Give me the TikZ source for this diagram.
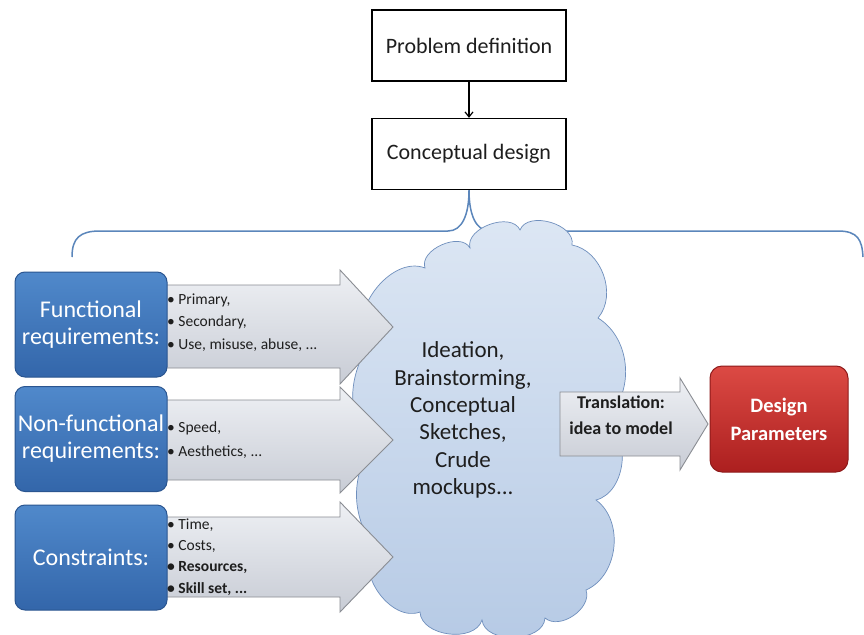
\documentclass[tikz,border=0pt]{standalone}
\usepackage{fontspec}
\setmainfont{Carlito}
\usetikzlibrary{arrows.meta,calc}
\definecolor{braceblue}{HTML}{5B86BB}
\definecolor{bluetop}{HTML}{5089CB}
\definecolor{bluebot}{HTML}{3366AA}
\definecolor{blueedge}{HTML}{2A5590}
\definecolor{redtop}{HTML}{DC4A44}
\definecolor{redbot}{HTML}{AC1F1F}
\definecolor{rededge}{HTML}{8E1A1A}
\definecolor{graytop}{HTML}{EEF0F4}
\definecolor{graybot}{HTML}{C8CCD5}
\definecolor{grayedge}{HTML}{8A8D93}
\definecolor{cloudtop}{HTML}{DDE7F4}
\definecolor{cloudbot}{HTML}{B6CAE5}
\definecolor{cloudedge}{HTML}{6F8FBD}
\definecolor{textdark}{HTML}{1E1E1E}
\tikzset{
  plainbox/.style={draw=black, line width=1.3pt, fill=white, minimum width=194pt, minimum height=71pt,
    font=\fontsize{22}{26}\selectfont, text=textdark},
  bluebox/.style={draw=blueedge, line width=1pt, rounded corners=10pt, top color=bluetop, bottom color=bluebot,
    minimum width=152pt, minimum height=105pt, align=center, text=white, font=\fontsize{24}{27}\selectfont, inner sep=0pt},
  redbox/.style={draw=rededge, line width=1pt, rounded corners=12pt, top color=redtop, bottom color=redbot,
    minimum width=138pt, minimum height=106pt, align=center, text=white, font=\bfseries\fontsize{20.5}{28}\selectfont, inner sep=0pt},
  grayarrow/.style={draw=grayedge, line width=0.9pt, top color=graytop, bottom color=graybot},
  bullets/.style={align=left, anchor=west, inner sep=0pt, text=textdark},
  cloudtext/.style={align=center, text=textdark, font=\fontsize{23}{27.3}\selectfont},
  bracestyle/.style={draw=braceblue, line width=1.5pt},
}
\begin{document}
\begin{tikzpicture}[x=1pt,y=-1pt]
\useasboundingbox (0,0) rectangle (864,634);
\fill[white] (0,0) rectangle (864,634);

% top boxes
\node[plainbox] (pd) at (469,45.5) {Problem definition};
\node[plainbox] (cd) at (469,154) {Conceptual design};
\draw[-{Straight Barb[length=5pt,width=8pt]}, line width=1.2pt] (pd.south) -- (cd.north);

% brace
\coordinate (btip) at (cd.south);
\draw[bracestyle] (72,257) .. controls (72,238) and (80,231) .. (100,231)
  -- (448,231) .. controls (462,231) and (469,215) .. (btip)
  .. controls (469,215) and (476,231) .. (490,231)
  -- (838,231) .. controls (858,231) and (862,240) .. (863,257);

% cloud
\path[draw=cloudedge, line width=0.7pt, top color=cloudtop, bottom color=cloudbot]
  (368,345) to[bend left=75] (425,268) to[bend left=85] (470,248) to[bend left=85] (520,230)
  to[bend left=85] (572,245) to[bend left=60] (598,318) to[bend left=55] (604,420)
  to[bend left=70] (596,500) to[bend left=60] (586,590) to[bend left=75] (545,618)
  to[bend left=85] (482,620) to[bend left=80] (420,612) to[bend left=75] (374,548)
  to[bend left=30] (368,450) to[bend left=30] (368,345) -- cycle;
\node[cloudtext] (idea) at (463,420) {Ideation,\\Brainstorming,\\Conceptual\\Sketches,\\Crude\\mockups...};

% gray arrows
\draw[grayarrow] (165,285) -- (340,285) -- (340,270) -- (393,327) -- (340,384) -- (340,368) -- (165,368) -- cycle;
\draw[grayarrow] (165,400) -- (340,400) -- (340,387) -- (393,440) -- (340,493) -- (340,480) -- (165,480) -- cycle;
\draw[grayarrow] (165,517) -- (340,517) -- (340,502) -- (393,557) -- (340,612) -- (340,597) -- (165,597) -- cycle;
\draw[grayarrow] (560,392) -- (680,392) -- (680,378) -- (708,424) -- (680,470) -- (680,456) -- (560,456) -- cycle;

% blue boxes
\node[bluebox] (fr) at (91,324.5) {Functional\\requirements:};
\node[bluebox] (nfr) at (91,439) {Non-functional\\requirements:};
\node[bluebox] (con) at (91,557.5) {Constraints:};

% bullet texts
\node[bullets, font=\fontsize{15.5}{22.5}\selectfont] (b1) at (167,322.5) {• Primary,\\• Secondary,\\• Use, misuse, abuse, ...};
\node[bullets, font=\fontsize{15.5}{24}\selectfont] (b2) at (167,440) {• Speed,\\• Aesthetics, ...};
\node[bullets, font=\fontsize{15.5}{21.3}\selectfont] (b3) at (167,557) {• Time,\\• Costs,\\\textbf{• Resources,}\\\textbf{• Skill set, ...}};

% translation
\node[align=center, text=textdark, font=\bfseries\fontsize{18}{26}\selectfont] (tr) at (621,415) {Translation:\\idea to model};

% design parameters
\node[redbox] (dp) at (779,419) {Design\\Parameters};
\end{tikzpicture}
\end{document}
